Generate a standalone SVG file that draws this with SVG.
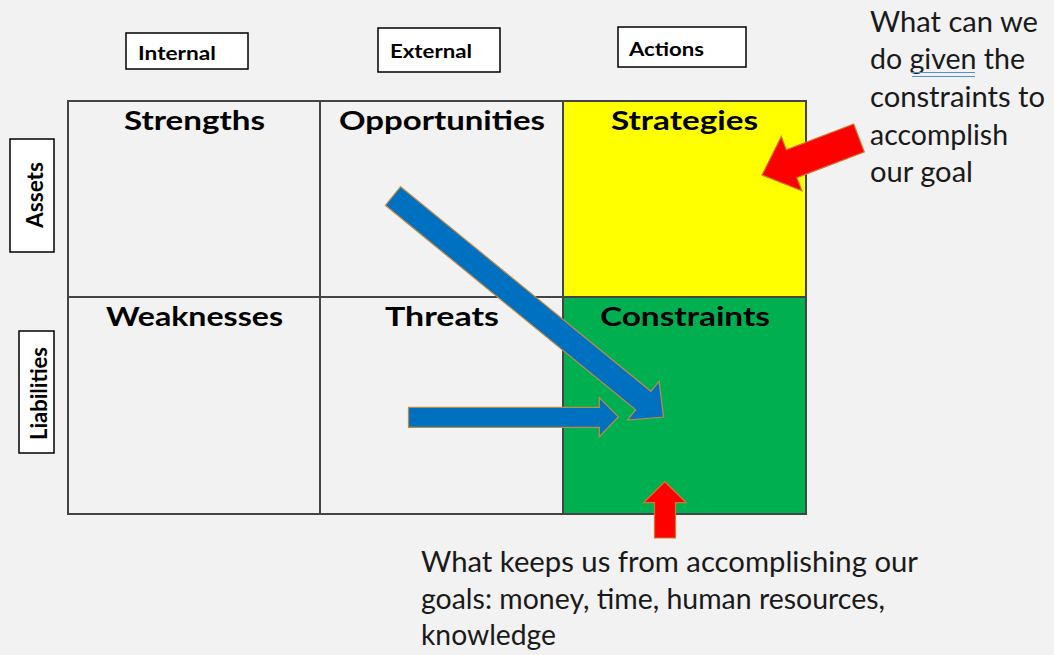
<svg xmlns="http://www.w3.org/2000/svg" width="1054" height="655" viewBox="0 0 1054 655">
<defs>
<style>
.bg{fill:#F2F2F2}
.lbl{fill:#fff;stroke:#000;stroke-width:1.5}
.lt{font-family:Lato,"Liberation Sans",sans-serif;font-weight:700;font-size:18px;fill:#000}
.st{font-family:Lato,"Liberation Sans",sans-serif;font-weight:700;font-size:23px;fill:#000}
.title{font-family:Lato,"Liberation Sans",sans-serif;font-weight:700;font-size:27px;fill:#000}
.note{font-family:Lato,"Liberation Sans",sans-serif;font-weight:400;font-size:28px;fill:#1a1a1a}
.cell{stroke:#444;stroke-width:2}
.blue{fill:#0070C0;stroke:#C08A45;stroke-width:1.2;stroke-linejoin:miter}
.red{fill:#FF0000;stroke:#D07A30;stroke-width:1.2}
</style>
</defs>
<rect class="bg" x="0" y="0" width="1054" height="655"/>

<g id="label-internal">
<rect class="lbl" x="126" y="33" width="122" height="36"/>
<text class="lt" x="138" y="60" textLength="78" lengthAdjust="spacingAndGlyphs">Internal</text>
</g>
<g id="label-external">
<rect class="lbl" x="378" y="28" width="122" height="44"/>
<text class="lt" x="390" y="57.5" textLength="82" lengthAdjust="spacingAndGlyphs">External</text>
</g>
<g id="label-actions">
<rect class="lbl" x="618" y="27" width="128" height="40"/>
<text class="lt" x="629" y="55.5" textLength="75" lengthAdjust="spacingAndGlyphs">Actions</text>
</g>

<g id="label-assets">
<rect class="lbl" x="10" y="139" width="44" height="113"/>
<text class="st" transform="translate(42.5,195) rotate(-90)" text-anchor="middle" textLength="66" lengthAdjust="spacingAndGlyphs">Assets</text>
</g>
<g id="label-liabilities">
<rect class="lbl" x="19" y="331" width="35" height="122"/>
<text class="st" transform="translate(46.5,393.5) rotate(-90)" text-anchor="middle" textLength="93" lengthAdjust="spacingAndGlyphs">Liabilities</text>
</g>

<g id="cell-strengths">
<rect class="cell" x="68" y="101" width="252" height="196" fill="#F2F2F2"/>
<text class="title" x="124" y="129.5" textLength="141" lengthAdjust="spacingAndGlyphs">Strengths</text>
</g>
<g id="cell-opportunities">
<rect class="cell" x="320" y="101" width="243" height="196" fill="#F2F2F2"/>
<text class="title" x="339" y="129.5" textLength="206" lengthAdjust="spacingAndGlyphs">Opportunities</text>
</g>
<g id="cell-strategies">
<rect class="cell" x="563" y="101" width="243" height="196" fill="#FFFF00"/>
<text class="title" x="611" y="129.5" textLength="147" lengthAdjust="spacingAndGlyphs">Strategies</text>
</g>
<g id="cell-weaknesses">
<rect class="cell" x="68" y="297" width="252" height="217" fill="#F2F2F2"/>
<text class="title" x="106" y="326" textLength="177" lengthAdjust="spacingAndGlyphs">Weaknesses</text>
</g>
<g id="cell-threats">
<rect class="cell" x="320" y="297" width="243" height="217" fill="#F2F2F2"/>
<text class="title" x="385" y="326" textLength="114" lengthAdjust="spacingAndGlyphs">Threats</text>
</g>
<g id="cell-constraints">
<rect class="cell" x="563" y="297" width="243" height="217" fill="#00B050"/>
<text class="title" x="600" y="326" textLength="170" lengthAdjust="spacingAndGlyphs">Constraints</text>
</g>

<g id="note-strategies">
<text class="note" x="870" y="31.5" textLength="168" lengthAdjust="spacingAndGlyphs">What can we</text>
<text class="note" x="870" y="68.5" textLength="155" lengthAdjust="spacingAndGlyphs">do given the</text>
<text class="note" x="870" y="106.5" textLength="175" lengthAdjust="spacingAndGlyphs">constraints to</text>
<text class="note" x="870" y="145" textLength="138" lengthAdjust="spacingAndGlyphs">accomplish</text>
<text class="note" x="870" y="181.5" textLength="103" lengthAdjust="spacingAndGlyphs">our goal</text>
<line x1="912" y1="72.5" x2="975" y2="72.5" stroke="#5B8BDB" stroke-width="1.2"/>
<line x1="912" y1="76.5" x2="975" y2="76.5" stroke="#5B8BDB" stroke-width="1.2"/>
</g>

<g id="note-constraints">
<text class="note" x="421" y="571.5" textLength="497" lengthAdjust="spacingAndGlyphs">What keeps us from accomplishing our</text>
<text class="note" x="421" y="608.5" textLength="464" lengthAdjust="spacingAndGlyphs">goals: money, time, human resources,</text>
<text class="note" x="421" y="645" textLength="135" lengthAdjust="spacingAndGlyphs">knowledge</text>
</g>

<g id="connectors">
<polygon class="blue" points="400.6,186.7 650.9,391.3 659.1,381.2 663.5,417 627.5,420 635.7,409.9 385.4,205.3"/>
<polygon class="blue" points="408.5,407.3 599.3,407.3 599.3,397.7 618.3,416.9 599.3,436.7 599.3,427.3 408.5,427.3"/>
<polygon class="red" points="853.7,124 786.3,149.7 781.3,136.6 762,175 801.9,190.8 796.9,177.7 864.3,152"/>
<polygon class="red" points="654.5,538 654.5,502.7 643.5,502.7 664.8,481.5 686.3,502.7 675.5,502.7 675.5,538"/>
</g>
</svg>
